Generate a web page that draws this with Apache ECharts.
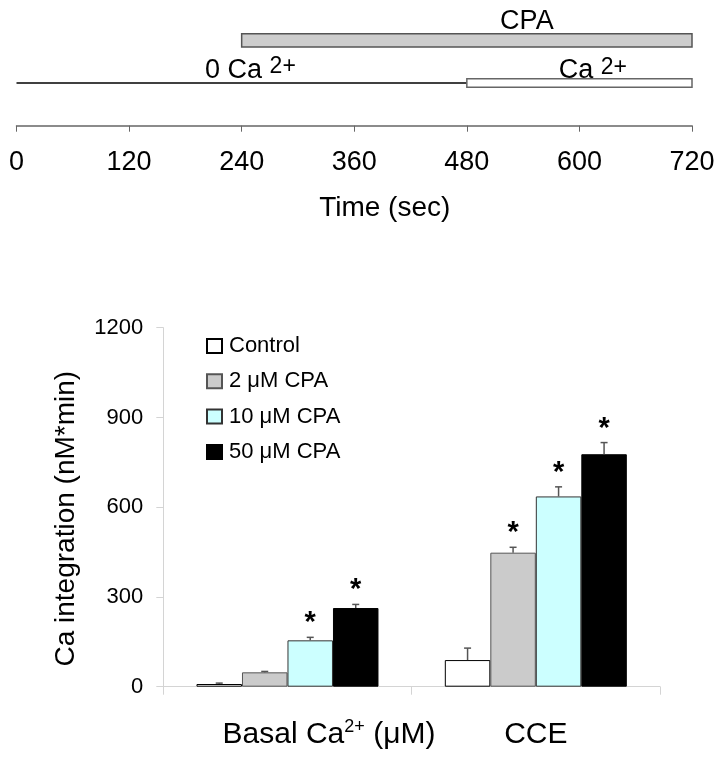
<!DOCTYPE html>
<html>
<head>
<meta charset="utf-8">
<script src="https://cdn.jsdelivr.net/npm/echarts@6/dist/echarts.min.js"></script>
<style>
  html, body { margin: 0; padding: 0; background: #ffffff; }
  #chart { width: 720px; height: 764px; }
</style>
</head>
<body>
<div id="chart"></div>
<script>
// ---------- Protocol (top panel) ----------
const protocolNames = ['CPA', 'Ca', '0 Ca'];
const protocolStart = [240, 480, 0];     // seconds
const protocolEnd   = [720, 720, 480];   // seconds
const timeTicks = [0, 120, 240, 360, 480, 600, 720];

// ---------- Bar chart (bottom panel) ----------
const categories = ['Basal Ca2+ (μM)', 'CCE'];
const seriesNames = ['Control', '2 μM CPA', '10 μM CPA', '50 μM CPA'];
const controlVals = [9, 89];
const controlErr  = [3, 40];
const cpa2Vals    = [48, 448];
const cpa2Err     = [3, 18];
const cpa10Vals   = [155, 636];
const cpa10Err    = [10, 32];
const cpa50Vals   = [263, 777];
const cpa50Err    = [12, 39];
const controlSig  = [0, 0];
const cpa2Sig     = [0, 1];
const cpa10Sig    = [1, 1];
const cpa50Sig    = [1, 1];
const yTicks = [0, 300, 600, 900, 1200];

const FONT = '"Liberation Sans", Arial, sans-serif';
const BAR_W = 45.5;

const allVals = [controlVals, cpa2Vals, cpa10Vals, cpa50Vals];
const allErr  = [controlErr, cpa2Err, cpa10Err, cpa50Err];
const allSig  = [controlSig, cpa2Sig, cpa10Sig, cpa50Sig];
const barStyles = [
  { color: '#ffffff', borderColor: '#000000', borderWidth: 1 },
  { color: '#cbcbcb', borderColor: '#555555', borderWidth: 1 },
  { color: '#ccffff', borderColor: '#333333', borderWidth: 1 },
  { color: '#000000', borderColor: '#000000', borderWidth: 1 }
];

// protocol styling / label layout (not data)
const protoLayout = [
  { row: 4, kind: 'bar', fill: '#cdcdcd', stroke: '#555555', h: 13.4, labelAt: 544, align: 'center', sup: null, labelTop: -34 },
  { row: 2, kind: 'bar', fill: '#ffffff', stroke: '#666666', h: 8.3,  labelAt: 578, align: 'left', sup: '2+', labelTop: -27 },
  { row: 2, kind: 'line', stroke: '#000000', labelAt: 201, align: 'left', sup: '2+', labelTop: -27.5 }
];

const chart = echarts.init(document.getElementById('chart'), null, { renderer: 'canvas' });

function protoRender(params, api) {
  const i = api.value(2);
  const L = protoLayout[i];
  const p0 = api.coord([api.value(0), L.row]);
  const p1 = api.coord([api.value(1), L.row]);
  const children = [];
  if (L.kind === 'bar') {
    children.push({
      type: 'rect',
      shape: { x: p0[0], y: p0[1] - L.h / 2, width: p1[0] - p0[0], height: L.h },
      style: { fill: L.fill, stroke: L.stroke, lineWidth: 1.5 },
      z2: 2
    });
  } else {
    children.push({
      type: 'line',
      shape: { x1: p0[0], y1: p0[1], x2: p1[0], y2: p1[1] },
      style: { stroke: L.stroke, lineWidth: 1.5 },
      z2: 1
    });
  }
  const lp = api.coord([L.labelAt, L.row]);
  const txt = L.sup ? '{m|' + protocolNames[i] + ' }{s|' + L.sup + '}' : '{m|' + protocolNames[i] + '}';
  children.push({
    type: 'text',
    x: lp[0],
    y: lp[1] + L.labelTop,
    style: {
      text: txt,
      align: L.align,
      verticalAlign: 'top',
      fill: '#000',
      rich: {
        m: { fontFamily: FONT, fontSize: 27, lineHeight: 30, fill: '#000' },
        s: { fontFamily: FONT, fontSize: 23, lineHeight: 17, verticalAlign: 'top', fill: '#000' }
      }
    },
    z2: 5
  });
  return { type: 'group', children: children };
}

function errRenderer(sIdx) {
  return function (params, api) {
    const cat = api.value(0), v = api.value(1), e = api.value(2), sig = api.value(3);
    const base = api.coord([cat, v]);
    const top = api.coord([cat, v + e]);
    const x = base[0] + (sIdx - 1.5) * BAR_W;
    const children = [
      { type: 'line', shape: { x1: x, y1: base[1], x2: x, y2: top[1] }, style: { stroke: '#555555', lineWidth: 1.5 } },
      { type: 'line', shape: { x1: x - 3.5, y1: top[1], x2: x + 3.5, y2: top[1] }, style: { stroke: '#555555', lineWidth: 1.5 } }
    ];
    if (sig) {
      children.push({
        type: 'text', x: x, y: top[1] - 14,
        style: { text: '*', fontFamily: FONT, fontSize: 29, fontWeight: 'bold', fill: '#000', align: 'center', verticalAlign: 'middle' }
      });
    }
    return { type: 'group', children: children };
  };
}

const series = [
  {
    type: 'custom',
    xAxisIndex: 0, yAxisIndex: 0,
    renderItem: protoRender,
    encode: { x: [0, 1] },
    clip: false,
    silent: true,
    data: protocolStart.map((s, i) => [s, protocolEnd[i], i])
  }
];

seriesNames.forEach((name, s) => {
  series.push({
    name: name,
    type: 'bar',
    xAxisIndex: 1, yAxisIndex: 1,
    barWidth: BAR_W,
    barGap: '0%',
    itemStyle: barStyles[s],
    data: allVals[s]
  });
});
seriesNames.forEach((name, s) => {
  series.push({
    type: 'custom',
    xAxisIndex: 1, yAxisIndex: 1,
    renderItem: errRenderer(s),
    clip: false,
    silent: true,
    z: 5,
    data: allVals[s].map((v, i) => [i, v, allErr[s][i], allSig[s][i]])
  });
});

const option = {
  animation: false,
  backgroundColor: '#ffffff',
  textStyle: { fontFamily: FONT },
  legend: {
    data: seriesNames,
    orient: 'vertical',
    left: 201,
    top: 330,
    itemWidth: 15,
    itemHeight: 14,
    itemGap: 13.3,
    icon: 'rect',
    selectedMode: false,
    textStyle: { fontFamily: FONT, fontSize: 22, color: '#000', lineHeight: 22, padding: [0, 0, 0, 2] }
  },
  grid: [
    { left: 16.5, right: 28, top: 19, height: 106.7 },
    { left: 163.3, right: 60, top: 327.7, bottom: 77.3 }
  ],
  xAxis: [
    {
      gridIndex: 0,
      type: 'value',
      min: timeTicks[0],
      max: timeTicks[timeTicks.length - 1],
      interval: timeTicks[1] - timeTicks[0],
      axisLine: { show: true, lineStyle: { color: '#666666', width: 1.5 } },
      axisTick: { show: true, length: 6, lineStyle: { color: '#666666', width: 1 } },
      axisLabel: { fontFamily: FONT, fontSize: 27, color: '#000', margin: 23, showMinLabel: true, showMaxLabel: true },
      splitLine: { show: false },
      name: 'Time (sec)',
      nameLocation: 'middle',
      nameGap: 69,
      nameTextStyle: { fontFamily: FONT, fontSize: 28, color: '#000', padding: [0, 0, 0, 61] }
    },
    {
      gridIndex: 1,
      type: 'category',
      data: categories,
      axisLine: { show: true, lineStyle: { color: '#d4d4d4', width: 1 } },
      axisTick: { show: true, length: 8, lineStyle: { color: '#d4d4d4' } },
      axisLabel: {
        margin: 31,
        formatter: function (v, i) {
          if (i === 0) {
            return '{pad| }{m|Basal Ca}{s|2+}{m| (μM)}';
          }
          return '{m|' + v + '}';
        },
        rich: {
          pad: { width: 83, fontSize: 30, lineHeight: 34 },
          m: { fontFamily: FONT, fontSize: 30, lineHeight: 34, color: '#000' },
          s: { fontFamily: FONT, fontSize: 18, lineHeight: 24, verticalAlign: 'top', color: '#000' }
        }
      }
    }
  ],
  yAxis: [
    { gridIndex: 0, type: 'value', min: 0, max: 5, show: false },
    {
      gridIndex: 1,
      type: 'value',
      min: yTicks[0],
      max: yTicks[yTicks.length - 1],
      interval: yTicks[1] - yTicks[0],
      axisLine: { show: true, lineStyle: { color: '#d4d4d4', width: 1 } },
      axisTick: { show: true, length: 7, lineStyle: { color: '#d4d4d4' } },
      axisLabel: { fontFamily: FONT, fontSize: 22, color: '#000', margin: 20, formatter: function (v) { return String(v); } },
      splitLine: { show: false },
      name: 'Ca integration (nM*min)',
      nameLocation: 'middle',
      nameGap: 83,
      nameTextStyle: { fontFamily: FONT, fontSize: 28, color: '#000', padding: [0, 23, 0, 0] }
    }
  ],
  series: series
};

chart.setOption(option);
</script>
</body>
</html>
